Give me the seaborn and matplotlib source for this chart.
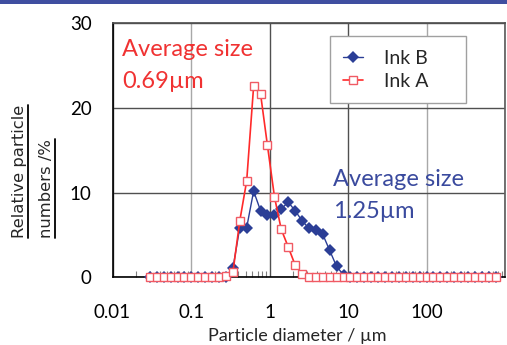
"""Particle size distribution of Ink A and Ink B."""

import matplotlib
matplotlib.use("Agg")
import matplotlib.pyplot as plt
import seaborn as sns
from matplotlib.lines import Line2D
from matplotlib.patches import Rectangle
from matplotlib.ticker import LogLocator, NullFormatter

BLUE = "#2B3E96"
BLUE_TEXT = "#3A4A9E"
RED = "#FF2A2A"
RED_EDGE = "#F05A64"
RED_TEXT = "#F03232"

# particle diameter classes (um)
diameter = [
    0.0299, 0.0366, 0.0448, 0.0548, 0.0671, 0.0822, 0.101, 0.123, 0.151, 0.185,
    0.226, 0.277, 0.340, 0.416, 0.509, 0.624, 0.764, 0.935, 1.15, 1.40,
    1.72, 2.10, 2.58, 3.16, 3.86, 4.73, 5.79, 7.10, 8.69, 10.6,
    13.0, 16.0, 19.5, 23.9, 29.3, 35.9, 44.0, 53.8, 65.9, 80.7,
    98.9, 121, 148, 182, 222, 272, 333, 408, 500, 612, 750,
]
ink_b = [
    0, 0, 0, 0, 0, 0, 0, 0, 0, 0,
    0, 0, 1.1, 5.9, 5.9, 10.2, 7.9, 7.4, 7.4, 8.1,
    8.9, 7.9, 6.7, 5.8, 5.6, 5.1, 3.2, 1.3, 0.3, 0,
    0, 0, 0, 0, 0, 0, 0, 0, 0, 0,
    0, 0, 0, 0, 0, 0, 0, 0, 0, 0, 0,
]
ink_a = [
    0, 0, 0, 0, 0, 0, 0, 0, 0, 0,
    0, 0.2, 0.6, 6.7, 11.4, 22.6, 21.7, 15.6, 9.5, 5.7,
    3.6, 1.5, 0.4, 0, 0, 0, 0, 0, 0, 0,
    0, 0, 0, 0, 0, 0, 0, 0, 0, 0,
    0, 0, 0, 0, 0, 0, 0, 0, 0, 0, 0,
]
x_ticks = [0.01, 0.1, 1, 10, 100, 1000]
x_tick_labels = ["0.01", "0.1", "1", "10", "100", ""]
y_ticks = [0, 10, 20, 30]

sns.set_theme(style="white")
plt.rcParams["font.family"] = ["Lato", "DejaVu Sans"]

fig = plt.figure(figsize=(5.07, 3.45), dpi=100)
ax = fig.add_axes([0.222, 0.1957, 0.775, 0.7362])

sns.lineplot(x=diameter, y=ink_b, ax=ax, color=BLUE, linewidth=1.0, marker="D",
             markersize=5.8, markeredgewidth=0, markerfacecolor=BLUE,
             label="Ink B", clip_on=False, zorder=3)
sns.lineplot(x=diameter, y=ink_a, ax=ax, color=RED, linewidth=1.2, marker="s",
             markersize=5.4, markeredgewidth=1.0, markerfacecolor="white",
             markeredgecolor=RED_EDGE, label="Ink A", clip_on=False, zorder=4)

ax.set_xscale("log")
ax.set_xlim(0.01, 1000)
ax.set_ylim(0, 30)
ax.set_xticks(x_ticks)
ax.set_xticklabels(x_tick_labels)
ax.set_yticks(y_ticks)
ax.xaxis.set_minor_locator(LogLocator(base=10, subs=range(2, 10), numticks=20))
ax.xaxis.set_minor_formatter(NullFormatter())
ax.tick_params(axis="both", which="major", length=0, labelsize=13.5, colors="black")
ax.tick_params(axis="x", which="major", pad=19)
ax.tick_params(axis="y", which="major", pad=15)
ax.tick_params(axis="x", which="minor", direction="in", length=4, width=0.8,
               color="#808080", bottom=True)
ax.set_xlabel("")
ax.set_ylabel("")

ax.grid(True, which="major", color="#505050", linewidth=1.0)
for tick_value, line in zip(x_ticks, ax.xaxis.get_gridlines()):
    if tick_value in (0.1, 100):
        line.set_color("#A8A8A8")

for side in ["left", "bottom"]:
    ax.spines[side].set_color("black")
    ax.spines[side].set_linewidth(1.2)
ax.spines["top"].set_color("#505050")
ax.spines["right"].set_color("#606060")

ax.legend(loc="upper left", bbox_to_anchor=(0.553, 0.70, 0.346, 0.251), mode="expand",
          fontsize=14, frameon=True, fancybox=False, framealpha=1, edgecolor="#A0A0A0",
          handlelength=1.0, handletextpad=1.1, borderpad=0.7, labelspacing=0.32,
          borderaxespad=0)
ax.get_legend().get_frame().set_linewidth(1.0)

ax.text(0.0235, 0.745, "Average size\n0.69µm", transform=ax.transAxes, color=RED_TEXT,
        fontsize=17, va="baseline", linespacing=1.65)
ax.text(0.562, 0.234, "Average size\n1.25µm", transform=ax.transAxes, color=BLUE_TEXT,
        fontsize=17, va="baseline", linespacing=1.65)

fig.text(297.5 / 507, 1 - 341.5 / 345, "Particle diameter / µm", ha="center",
         va="baseline", fontsize=13)

# two-line underlined y label
ylab1 = fig.text(19.5 / 507, 1 - 238 / 345, "Relative particle", rotation=90,
                 ha="center", va="bottom", fontsize=11.8, family="DejaVu Sans")
ylab2 = fig.text(46.5 / 507, 1 - 238 / 345, "numbers /%", rotation=90,
                 ha="center", va="bottom", fontsize=11.8, family="DejaVu Sans")
fig.canvas.draw()
renderer = fig.canvas.get_renderer()
for label in (ylab1, ylab2):
    bb = label.get_window_extent(renderer).transformed(fig.transFigure.inverted())
    ux = bb.x1 + 1.0 / 507
    fig.add_artist(Line2D([ux, ux], [bb.y0, bb.y1], transform=fig.transFigure,
                          color="black", linewidth=1.3))

# slide header band
fig.add_artist(Rectangle((0, 1 - 3.5 / 345), 1, 3.5 / 345, transform=fig.transFigure,
                         color="#3F4EA0", linewidth=0))

fig.savefig("out.png", dpi=100)
